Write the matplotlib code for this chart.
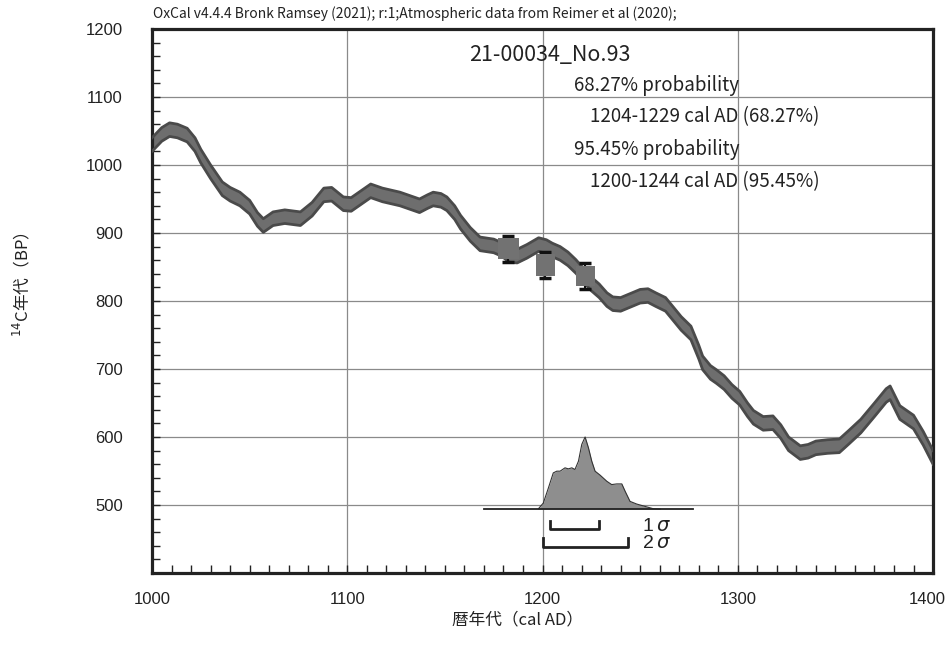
import matplotlib
matplotlib.use("Agg")
import matplotlib.pyplot as plt
from matplotlib import font_manager
from matplotlib.ticker import MultipleLocator
from matplotlib.transforms import ScaledTranslation
import numpy as np

# Calibration curve (IntCal20 band)
cal_years = [1000, 1005, 1009, 1013, 1018, 1022, 1025, 1030, 1036, 1040,
             1045, 1050, 1054, 1057, 1062, 1068, 1076, 1082, 1088, 1092,
             1098, 1102, 1107, 1112, 1118, 1127, 1132, 1137, 1141, 1144,
             1148, 1151, 1155, 1158, 1163, 1168, 1175, 1179, 1183, 1187,
             1192, 1198, 1202, 1205, 1209, 1213, 1217, 1221, 1225, 1229,
             1233, 1236, 1240, 1245, 1250, 1254, 1258, 1263, 1267, 1271,
             1276, 1280, 1282, 1286, 1289, 1293, 1297, 1301, 1305, 1308,
             1313, 1318, 1322, 1326, 1332, 1336, 1340, 1346, 1352, 1357,
             1363, 1370, 1376, 1378, 1383, 1390, 1395, 1400]
curve_bp = [1030, 1045, 1052, 1050, 1044, 1030, 1013, 990, 965, 957,
            950, 938, 920, 911, 921, 924, 921, 935, 956, 957,
            943, 942, 952, 962, 956, 950, 945, 940, 946, 950,
            948, 943, 930, 916, 898, 884, 881, 876, 867, 866,
            873, 883, 880, 875, 870, 862, 851, 838, 825, 815,
            802, 796, 795, 801, 807, 808, 802, 795, 781, 767,
            753, 725, 709, 695, 689, 680, 667, 657, 640, 629,
            620, 621, 608, 590, 577, 579, 584, 586, 587, 600,
            616, 640, 661, 665, 636, 622, 598, 570]
curve_err = 10

# wiggle-match samples (boxes with error bars)
sample_year = [1182.5, 1201.5, 1222]
sample_width = [11, 10, 10]
sample_bp = [877, 853, 837]
sample_box = [15, 16, 15]
sample_err = [19, 19, 19]

# calibrated probability distribution (relative)
dist_years = [1197.9, 1200.4, 1203.0, 1205.5, 1207.3, 1209.0, 1211.5, 1213.2,
              1215.0, 1216.6, 1218.4, 1220.1, 1221.8, 1223.5, 1225.2, 1226.9,
              1229.5, 1232.9, 1235.4, 1238.0, 1240.6, 1242.3, 1244.8, 1248.2,
              1252.5, 1256.7, 1260.2]
dist_prob = [0.005, 0.084, 0.293, 0.502, 0.526, 0.526, 0.572, 0.558,
             0.572, 0.549, 0.665, 0.898, 1.0, 0.851, 0.665, 0.526,
             0.470, 0.386, 0.340, 0.349, 0.349, 0.247, 0.107, 0.070,
             0.037, 0.005, 0.0]
dist_base = 494
dist_height = 106
dist_span = [1170, 1277]

range_1s = [1204, 1229]
range_2s = [1200, 1244]

header = "OxCal v4.4.4 Bronk Ramsey (2021); r:1;Atmospheric data from Reimer et al (2020);"
title = "21-00034_No.93"
prob_lines = ["68.27% probability", "1204-1229 cal AD (68.27%)",
              "95.45% probability", "1200-1244 cal AD (95.45%)"]

names = {f.name for f in font_manager.fontManager.ttflist}
num_font = "Liberation Sans Narrow" if "Liberation Sans Narrow" in names else "Liberation Sans"
jp = ["Noto Sans CJK JP", "DejaVu Sans"]
ink = "#222222"

fig = plt.figure(figsize=(9.49, 6.59), dpi=100)
ax = fig.add_axes([0.1602, 0.1305, 0.823, 0.8255])
ax.set_xlim(1000, 1400)
ax.set_ylim(400, 1200)

# grid
for gx in [1100, 1200, 1300]:
    ax.axvline(gx, color="#8a8a8a", lw=0.9, zorder=0)
for gy in [500, 600, 700, 800, 900, 1000, 1100]:
    ax.axhline(gy, color="#8a8a8a", lw=0.9, zorder=0)

# calibration curve band
yrs = np.array(cal_years)
bp = np.array(curve_bp)
ax.fill_between(yrs, bp - curve_err, bp + curve_err, color="#6e6e6e", lw=0, zorder=2)
ax.plot(yrs, bp + curve_err, color="#4a4a4a", lw=2, zorder=3)
ax.plot(yrs, bp - curve_err, color="#4a4a4a", lw=2, zorder=3)

# sample boxes (box drawn over the error bar so only the caps show)
for x, w, y, h, e in zip(sample_year, sample_width, sample_bp, sample_box, sample_err):
    ax.errorbar(x, y, yerr=e, fmt="none", ecolor="#111111", elinewidth=1.5,
                capsize=4.5, capthick=2.5, zorder=4)
    ax.add_patch(plt.Rectangle((x - w / 2, y - h), w, 2 * h, color="#727272", lw=0, zorder=5))

# probability distribution
dy = np.array(dist_years)
dp = dist_base + np.array(dist_prob) * dist_height
ax.fill_between(dy, dist_base, dp, color="#8e8e8e", lw=0, zorder=4)
ax.plot(dy, dp, color="#333333", lw=0.8, zorder=5)
ax.plot(dist_span, [dist_base, dist_base], color=ink, lw=1.3, zorder=5)

# sigma brackets
for (a, b), yb, lab in [(range_1s, 464, "1"), (range_2s, 438.5, "2")]:
    ax.plot([a, a, b, b], [yb + 13, yb, yb, yb + 13], color=ink, lw=2, zorder=5)
    ax.text(1251, yb + 5, lab + r"$\,\sigma$", fontsize=14, family=num_font,
            ha="left", va="center", color=ink)

# axes styling
for s in ax.spines.values():
    s.set_linewidth(2.3)
    s.set_color(ink)
ax.set_xticks([1000, 1100, 1200, 1300, 1400])
ax.set_yticks([500, 600, 700, 800, 900, 1000, 1100, 1200])
ax.xaxis.set_minor_locator(MultipleLocator(10))
ax.yaxis.set_minor_locator(MultipleLocator(20))
ax.tick_params(which="both", direction="in", length=6, width=1, color=ink)
ax.tick_params(axis="x", which="major", pad=14, labelsize=12)
ax.tick_params(axis="y", which="major", pad=21, labelsize=12)
for lab in ax.get_xticklabels() + ax.get_yticklabels():
    lab.set_family(num_font)
    lab.set_color(ink)
last = ax.get_xticklabels()[-1]
last.set_transform(last.get_transform() + ScaledTranslation(-4 / 72, 0, fig.dpi_scale_trans))

# texts
fig.text(153 / 949, 1 - 14 / 659, header, family=jp, fontsize=10,
         ha="left", va="center", color=ink)
fig.text(550 / 949, 1 - 55 / 659, title, family=jp, fontsize=15.5,
         ha="center", va="center", color=ink)
for (px, py), s in zip([(574, 86), (590, 117), (574, 149), (590, 182)], prob_lines):
    fig.text(px / 949, 1 - py / 659, s, family=jp, fontsize=13.5,
             ha="left", va="center", color=ink)

fig.text(518 / 949, 1 - 620 / 659, "暦年代（cal AD）", family=jp, fontsize=12,
         ha="center", va="center", color=ink)
fig.text(22 / 949, 1 - 285 / 659, r"$^{14}$C年代（BP）", family=jp, fontsize=12,
         ha="center", va="center", rotation=90, color=ink)

fig.savefig("out.png", dpi=100)
